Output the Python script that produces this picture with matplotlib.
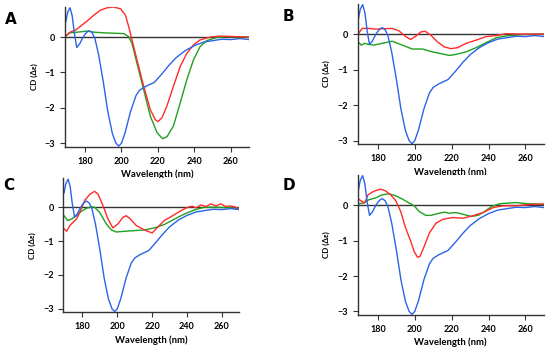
import matplotlib
matplotlib.use("Agg")
import matplotlib.pyplot as plt

plt.rcParams['font.family'] = ['Lato', 'DejaVu Sans']

# blue reference spectrum (same in every panel)
blue_wl = [169.5, 170.5, 171.8, 173.0, 174.2, 175.5, 177.0, 178.5, 180.0, 181.5, 182.5, 184.0,
           185.5, 187.5, 190.0, 192.5, 195.0, 197.0, 198.5, 200.0, 202.0, 205.0, 208.0, 210.0,
           213.0, 218.0, 222.0, 226.0, 230.0, 235.0, 240.0, 245.0, 250.0, 255.0, 260.0, 265.0, 270.0]
blue_cd = [0.43, 0.7, 0.83, 0.6, 0.1, -0.29, -0.2, -0.05, 0.08, 0.16, 0.18, 0.12,
           -0.05, -0.5, -1.25, -2.1, -2.72, -3.0, -3.08, -3.0, -2.7, -2.1, -1.65, -1.5,
           -1.4, -1.28, -1.05, -0.8, -0.58, -0.38, -0.24, -0.14, -0.1, -0.06, -0.07, -0.04, -0.07]

# panel A
a_red_wl = [169.5, 172.2, 174.9, 177.6, 181.3, 184.9, 188.5, 192.2, 195.8, 199.5, 202.2, 204.0,
            205.8, 208.5, 212.2, 215.8, 218.5, 220.0, 222.2, 224.9, 228.5, 232.2, 235.8, 239.5,
            243.1, 248.5, 254.0, 270.0]
a_red_cd = [0.03, 0.15, 0.2, 0.31, 0.46, 0.62, 0.76, 0.83, 0.85, 0.8, 0.62, 0.29,
            -0.08, -0.64, -1.39, -2.05, -2.33, -2.39, -2.28, -1.95, -1.39, -0.83, -0.46, -0.22,
            -0.08, 0.0, 0.03, 0.0]
a_green_wl = [169.5, 171.3, 174.0, 177.6, 181.3, 184.9, 190.4, 195.8, 201.3, 204.0, 205.8, 208.5,
              212.2, 215.8, 219.5, 222.5, 224.9, 228.5, 232.2, 235.8, 239.5, 243.1, 246.7, 252.2,
              257.6, 270.0]
a_green_cd = [0.03, 0.12, 0.13, 0.15, 0.17, 0.14, 0.12, 0.11, 0.1, 0.01, -0.18, -0.74,
              -1.49, -2.23, -2.7, -2.87, -2.82, -2.51, -1.86, -1.21, -0.64, -0.27, -0.1, -0.01,
              0.01, 0.0]

# panel B
b_red_wl = [169.3, 171.5, 175.1, 178.7, 182.4, 187.8, 191.5, 195.1, 197.8, 200.5, 203.3, 205.6,
            208.7, 212.4, 216.0, 219.6, 223.3, 227.8, 233.3, 238.7, 244.2, 249.6, 258.7, 270.0]
b_red_cd = [0.0, 0.16, 0.16, 0.14, 0.15, 0.16, 0.09, -0.07, -0.15, -0.06, 0.06, 0.08,
            -0.03, -0.22, -0.36, -0.41, -0.38, -0.26, -0.17, -0.07, -0.04, 0.01, 0.0, 0.0]
b_green_wl = [169.3, 171.1, 172.9, 175.1, 177.8, 182.4, 187.8, 193.3, 198.7, 204.2, 209.6, 215.1,
              218.7, 222.4, 227.8, 233.3, 238.7, 244.2, 249.6, 258.7, 270.0]
b_green_cd = [-0.22, -0.31, -0.26, -0.29, -0.31, -0.26, -0.2, -0.31, -0.42, -0.42, -0.5, -0.56,
              -0.6, -0.57, -0.5, -0.38, -0.24, -0.1, -0.05, -0.01, 0.0]

# panel C
c_red_wl = [169.5, 170.9, 172.8, 174.7, 176.6, 178.5, 181.3, 184.2, 187.0, 188.9, 191.8, 194.7,
            197.5, 200.4, 203.2, 205.1, 207.0, 210.9, 215.6, 220.0, 223.2, 227.0, 231.8, 236.6,
            240.4, 243.2, 245.1, 248.0, 250.9, 253.7, 256.6, 259.4, 262.3, 265.1, 268.0, 269.9]
c_red_cd = [-0.64, -0.71, -0.54, -0.44, -0.35, -0.15, 0.2, 0.38, 0.47, 0.39, 0.05, -0.35,
            -0.61, -0.49, -0.3, -0.25, -0.32, -0.54, -0.67, -0.76, -0.59, -0.39, -0.25, -0.1,
            0.0, 0.03, -0.02, 0.07, 0.02, 0.1, 0.04, 0.1, 0.02, 0.04, 0.0, -0.06]
c_green_wl = [169.5, 171.4, 173.7, 176.6, 179.4, 182.3, 185.1, 187.0, 189.9, 193.7, 196.6, 199.4,
              204.2, 209.9, 215.6, 221.3, 227.0, 232.8, 238.5, 244.2, 249.9, 257.5, 269.9]
c_green_cd = [-0.25, -0.39, -0.35, -0.25, -0.12, -0.03, 0.01, 0.0, -0.15, -0.49, -0.67, -0.73,
              -0.71, -0.69, -0.67, -0.61, -0.51, -0.35, -0.2, -0.08, 0.0, 0.0, -0.03]

# panel D
d_red_wl = [169.6, 171.4, 172.9, 174.7, 177.8, 181.5, 184.2, 186.9, 189.7, 192.4, 195.1, 197.9,
            199.7, 201.5, 202.8, 205.1, 207.9, 211.5, 215.2, 220.6, 226.1, 231.5, 237.0, 242.5,
            247.9, 255.2, 262.5, 269.8]
d_red_cd = [0.17, 0.1, 0.06, 0.29, 0.39, 0.45, 0.4, 0.29, 0.13, -0.18, -0.65, -1.03,
            -1.31, -1.47, -1.45, -1.17, -0.79, -0.51, -0.4, -0.35, -0.37, -0.3, -0.21, -0.07,
            -0.02, -0.02, 0.02, 0.03]
d_green_wl = [169.6, 172.4, 175.1, 178.7, 182.4, 186.0, 189.7, 193.3, 196.9, 199.7, 202.4, 206.0,
              208.8, 212.4, 216.1, 218.8, 222.4, 227.0, 230.6, 234.3, 237.9, 241.6, 246.1, 251.6,
              255.2, 260.7, 269.8]
d_green_cd = [0.04, 0.06, 0.15, 0.2, 0.29, 0.32, 0.26, 0.17, 0.06, -0.02, -0.18, -0.29,
              -0.29, -0.24, -0.2, -0.23, -0.21, -0.27, -0.32, -0.29, -0.18, -0.04, 0.04, 0.06,
              0.07, 0.04, 0.02]

# letter, axes rect, letter position (figure fraction), red and green series
panels = [
    ('A', [0.118, 0.583, 0.335, 0.397], (0.009, 0.946), a_red_wl, a_red_cd, a_green_wl, a_green_cd),
    ('B', [0.650, 0.590, 0.339, 0.399], (0.514, 0.952), b_red_wl, b_red_cd, b_green_wl, b_green_cd),
    ('C', [0.115, 0.113, 0.320, 0.380], (0.005, 0.472), c_red_wl, c_red_cd, c_green_wl, c_green_cd),
    ('D', [0.650, 0.105, 0.339, 0.398], (0.514, 0.472), d_red_wl, d_red_cd, d_green_wl, d_green_cd),
]

fig = plt.figure(figsize=(5.5, 3.52), dpi=100)

for letter, pos, lpos, rw, rc, gw, gc in panels:
    ax = fig.add_axes(pos)
    ax.axhline(0, color='#333333', lw=1.0, zorder=1)
    ax.plot(gw, gc, color='#1fa01f', lw=1.0)
    ax.plot(rw, rc, color='#ff2a2a', lw=1.0)
    ax.plot(blue_wl, blue_cd, color='#2a64e8', lw=1.0)
    ax.set_xlim(169, 270)
    ax.set_ylim(-3.1, 0.85)
    ax.set_xticks([180, 200, 220, 240, 260])
    ax.set_yticks([0, -1, -2, -3])
    ax.spines['top'].set_visible(False)
    ax.spines['right'].set_visible(False)
    for s in ['left', 'bottom']:
        ax.spines[s].set_color('#333333')
        ax.spines[s].set_linewidth(1.0)
    ax.tick_params(length=3.5, width=0.8, color='#333333', pad=3.5, labelsize=6.5)
    for lab in ax.get_xticklabels() + ax.get_yticklabels():
        lab.set_fontweight('bold')
    ax.set_xlabel('Wavelength (nm)', fontsize=6.8, fontweight='bold', labelpad=3)
    ax.set_ylabel('CD (Δε)', fontsize=5.8, fontweight='bold', labelpad=5)
    fig.text(lpos[0], lpos[1], letter, fontsize=11, fontweight='bold',
             va='center', ha='left', family=['DejaVu Sans'])

fig.savefig('out.png', dpi=100)
